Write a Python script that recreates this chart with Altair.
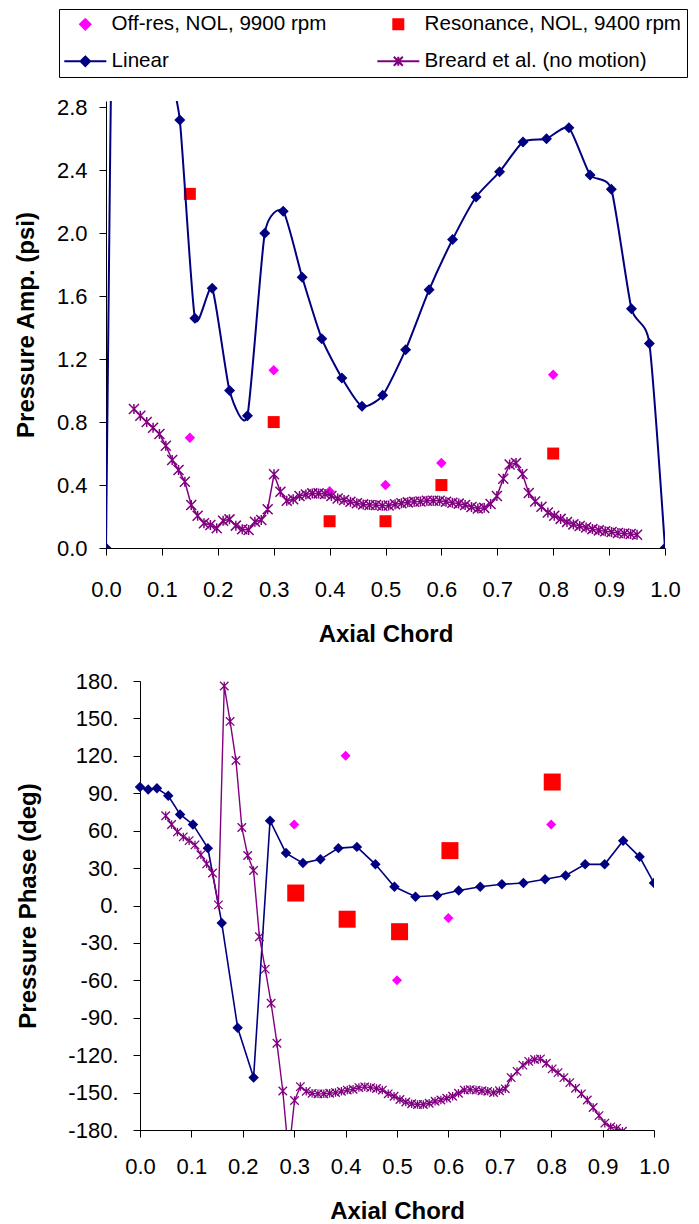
import altair as alt
import pandas as pd

# ---------------- data ----------------
SERIES = ["Off-res, NOL, 9900 rpm", "Resonance, NOL, 9400 rpm", "Linear", "Breard et al. (no motion)"]
COLORS = ["#FF00FF", "#FF0000", "#000080", "#800080"]

# Linear theory (shared chord stations)
lin_x = [0.0, 0.016, 0.033, 0.055, 0.078, 0.103, 0.132, 0.159, 0.190, 0.221, 0.253, 0.284,
         0.317, 0.351, 0.386, 0.422, 0.458, 0.495, 0.536, 0.578, 0.620, 0.662, 0.704, 0.746,
         0.788, 0.828, 0.866, 0.904, 0.940, 0.972, 1.0]
# amplitude (values near the leading edge run off the top of the axis)
amp_lin = [0.0, 5.0, 6.0, 6.0, 5.0, 3.3, 2.72, 1.46, 1.65, 1.00, 0.84, 2.00,
           2.14, 1.72, 1.33, 1.08, 0.90, 0.97, 1.26, 1.64, 1.96, 2.23, 2.39, 2.58,
           2.60, 2.67, 2.37, 2.28, 1.52, 1.30, 0.0]
phase_lin = [95, 93, 94, 88, 73, 65, 46, -14, -98, -138, 68, 42,
             34, 37, 46, 47, 33, 15, 7, 8, 12, 15, 17, 18,
             21, 24, 33, 33, 52, 39, 18]

# Breard et al. (no motion)
breard_x = [0.0500, 0.0614, 0.0728, 0.0842, 0.0956, 0.1070, 0.1184, 0.1297, 0.1411, 0.1525,
            0.1639, 0.1753, 0.1867, 0.1981, 0.2095, 0.2209, 0.2323, 0.2437, 0.2551, 0.2664,
            0.2778, 0.2892, 0.3006, 0.3120, 0.3234, 0.3348, 0.3462, 0.3576, 0.3690, 0.3804,
            0.3918, 0.4032, 0.4145, 0.4259, 0.4373, 0.4487, 0.4601, 0.4715, 0.4829, 0.4943,
            0.5057, 0.5171, 0.5285, 0.5399, 0.5513, 0.5626, 0.5740, 0.5854, 0.5968, 0.6082,
            0.6196, 0.6310, 0.6424, 0.6538, 0.6652, 0.6766, 0.6880, 0.6993, 0.7107, 0.7221,
            0.7335, 0.7449, 0.7563, 0.7677, 0.7791, 0.7905, 0.8019, 0.8133, 0.8247, 0.8361,
            0.8474, 0.8588, 0.8702, 0.8816, 0.8930, 0.9044, 0.9158, 0.9272, 0.9386, 0.9500]
amp_breard = [0.883, 0.84, 0.80, 0.764, 0.724, 0.65, 0.559, 0.495, 0.421, 0.273,
              0.205, 0.157, 0.146, 0.125, 0.173, 0.182, 0.142, 0.119, 0.114, 0.167,
              0.178, 0.246, 0.468, 0.357, 0.30, 0.31, 0.33, 0.34, 0.347, 0.347,
              0.343, 0.33, 0.315, 0.305, 0.294, 0.284, 0.277, 0.273, 0.273, 0.269,
              0.27, 0.278, 0.284, 0.29, 0.294, 0.295, 0.30, 0.30, 0.30, 0.294,
              0.288, 0.282, 0.273, 0.26, 0.251, 0.255, 0.28, 0.33, 0.44, 0.53,
              0.54, 0.47, 0.35, 0.295, 0.262, 0.225, 0.205, 0.185, 0.165, 0.15,
              0.14, 0.13, 0.12, 0.112, 0.107, 0.102, 0.095, 0.092, 0.089, 0.084]
phase_breard = [72, 65, 59, 55, 52, 48.6, 40.6, 33.4, 26, 0.5,
                176, 147.6, 116.3, 62.6, 40.1, 28.1, -25, -51, -78.4, -110.4,
                -148.7, -200, -156.4, -145.2, -149, -150.6, -151, -151, -150.5, -150,
                -149, -148, -147.3, -146, -145.4, -146, -146.7, -148, -151, -153,
                -155.5, -157.5, -159, -159.5, -159.5, -158.5, -157, -156, -154.5, -153,
                -150.5, -148, -147.6, -148, -148.5, -149, -150, -148.5, -147, -138,
                -133, -128, -125, -123.5, -123, -126.5, -131, -134, -138, -142,
                -146.5, -151, -156, -162, -168.5, -174.5, -177.5, -178.7, -181, -184]

# Experiments
off_amp_x = [0.15, 0.3, 0.4, 0.5, 0.6, 0.8]
off_amp = [0.70, 1.13, 0.36, 0.40, 0.54, 1.10]
res_amp_x = [0.15, 0.3, 0.4, 0.5, 0.6, 0.8]
res_amp = [2.25, 0.80, 0.17, 0.17, 0.40, 0.60]
off_ph_x = [0.3, 0.4, 0.5, 0.6, 0.8]
off_ph = [65, 120, -60, -10, 65]
res_ph_x = [0.303, 0.403, 0.505, 0.603, 0.802]
res_ph = [10, -11, -21, 44, 99]

x_ticks = [0.0, 0.1, 0.2, 0.3, 0.4, 0.5, 0.6, 0.7, 0.8, 0.9, 1.0]
amp_ticks = [0.0, 0.4, 0.8, 1.2, 1.6, 2.0, 2.4, 2.8]
ph_ticks = [-180, -150, -120, -90, -60, -30, 0, 30, 60, 90, 120, 150, 180]

# ---------------- styling ----------------
FONT = "Liberation Sans"
STAR = "M-1,-1L1,1M-1,1L1,-1M0,-1L0,1"
LEG_SHAPES = [
    "M0,-1.05L1.05,0L0,1.05L-1.05,0Z",
    "M-1,-1L1,-1L1,1L-1,1Z",
    "M-4.2,0L4.2,0M0,-0.95L0.95,0L0,0.95L-0.95,0Z",
    "M-4.2,0L4.2,0M-0.9,-0.9L0.9,0.9M-0.9,0.9L0.9,-0.9M0,-0.9L0,0.9",
]


def frame(x, y):
    return pd.DataFrame({"x": x, "y": y})


# ---------------- top: amplitude ----------------
TW, TH = 559, 447
xt = alt.X("x:Q", scale=alt.Scale(domain=[0, 1], nice=False, zero=False),
           axis=alt.Axis(values=x_ticks, format=".1f", title="Axial Chord",
                         labelPadding=24, titlePadding=22))
yt = alt.Y("y:Q", scale=alt.Scale(domain=[0, 2.84], nice=False, zero=False),
           axis=alt.Axis(values=amp_ticks, format=".1f", title="Pressure Amp. (psi)",
                         labelPadding=12, titlePadding=18))

LEG = alt.Legend(title=None, orient="none", legendX=-47, legendY=-92, columns=2,
                 direction="horizontal",
                 labelFont=FONT, labelFontSize=20.6, labelColor="black", labelLimit=400,
                 labelOffset=16, symbolSize=100, symbolStrokeWidth=2,
                 strokeColor="black", fillColor="white", padding=5,
                 rowPadding=16, columnPadding=46, symbolOffset=11)

legend_layer = alt.Chart(pd.DataFrame({"series": SERIES, "x": [0.5] * 4, "y": [1.0] * 4})).transform_filter(
    "datum.x > 5").mark_point(filled=True, opacity=1, strokeWidth=2).encode(
    x=xt, y=yt,
    fill=alt.Fill("series:N", scale=alt.Scale(domain=SERIES, range=COLORS), legend=LEG),
    stroke=alt.Stroke("series:N", scale=alt.Scale(domain=SERIES, range=COLORS), legend=LEG),
    shape=alt.Shape("series:N", scale=alt.Scale(domain=SERIES, range=LEG_SHAPES), legend=LEG),
)

t_off = alt.Chart(frame(off_amp_x, off_amp)).mark_point(
    shape="diamond", filled=True, opacity=1, size=110, color=COLORS[0]).encode(x=xt, y=yt)
t_res = alt.Chart(frame(res_amp_x, res_amp)).mark_point(
    shape="square", filled=True, opacity=1, size=144, color=COLORS[1]).encode(x=xt, y=yt)
t_lin_line = alt.Chart(frame(lin_x, amp_lin)).mark_line(
    interpolate="cardinal", tension=0.4, color=COLORS[2], strokeWidth=2, clip=True).encode(x=xt, y=yt)
t_lin_pts = alt.Chart(frame(lin_x, amp_lin)).mark_point(
    shape="diamond", filled=True, opacity=1, size=121, color=COLORS[2], clip=True).encode(x=xt, y=yt)
t_br_line = alt.Chart(frame(breard_x, amp_breard)).mark_line(
    color=COLORS[3], strokeWidth=1.5, clip=True).encode(x=xt, y=yt)
t_br_pts = alt.Chart(frame(breard_x, amp_breard)).mark_point(
    shape=STAR, filled=False, opacity=1, size=100, stroke=COLORS[3], strokeWidth=1.5, clip=True).encode(x=xt, y=yt)

top = alt.layer(t_off, t_res, t_lin_line, t_lin_pts, t_br_line, t_br_pts, legend_layer).properties(
    width=TW, height=TH)

# ---------------- bottom: phase ----------------
BW, BH = 548, 449
B_OFF = 34
xb = alt.X("x:Q", scale=alt.Scale(domain=[0, 1], nice=False, zero=False, range=[B_OFF, BW]),
           axis=alt.Axis(values=x_ticks, format=".1f", title="Axial Chord",
                         labelPadding=19, titlePadding=22))
yb = alt.Y("y:Q", scale=alt.Scale(domain=[-180, 180], nice=False, zero=False),
           axis=alt.Axis(values=ph_ticks, labelExpr="datum.value + '.'", title="Pressure Phase (deg)",
                         labelPadding=15, titlePadding=27, offset=-B_OFF))

b_off = alt.Chart(frame(off_ph_x, off_ph)).mark_point(
    shape="diamond", filled=True, opacity=1, size=100, color=COLORS[0]).encode(x=xb, y=yb)
b_res = alt.Chart(frame(res_ph_x, res_ph)).mark_point(
    shape="square", filled=True, opacity=1, size=289, color=COLORS[1]).encode(x=xb, y=yb)
b_lin_line = alt.Chart(frame(lin_x, phase_lin)).mark_line(
    color=COLORS[2], strokeWidth=1.6, clip=True).encode(x=xb, y=yb)
b_lin_pts = alt.Chart(frame(lin_x, phase_lin)).mark_point(
    shape="diamond", filled=True, opacity=1, size=110, color=COLORS[2], clip=True).encode(x=xb, y=yb)
b_br_line = alt.Chart(frame(breard_x, phase_breard)).mark_line(
    color=COLORS[3], strokeWidth=1.4, clip=True).encode(x=xb, y=yb)
b_br_pts = alt.Chart(frame(breard_x, phase_breard)).mark_point(
    shape=STAR, filled=False, opacity=1, size=72, stroke=COLORS[3], strokeWidth=1.3, clip=True).encode(x=xb, y=yb)

bottom = alt.layer(b_off, b_res, b_lin_line, b_lin_pts, b_br_line, b_br_pts).properties(
    width=BW, height=BH)

chart = alt.vconcat(top, bottom, spacing=24).resolve_scale(
    fill="independent", stroke="independent", shape="independent"
).properties(
    padding={"left": 6, "top": 0, "right": 0, "bottom": 0}
).configure_view(stroke=None).configure_axis(
    grid=False, labelFont=FONT, labelFontSize=22, labelColor="black",
    titleFont=FONT, titleFontSize=24, titleFontWeight="bold", titleColor="black",
    tickColor="black", domainColor="black", tickSize=7, tickWidth=1, domainWidth=1,
    labelFlush=False, labelOverlap=False
)

chart.save("out.html", embed_options={"renderer": "svg", "actions": False})
